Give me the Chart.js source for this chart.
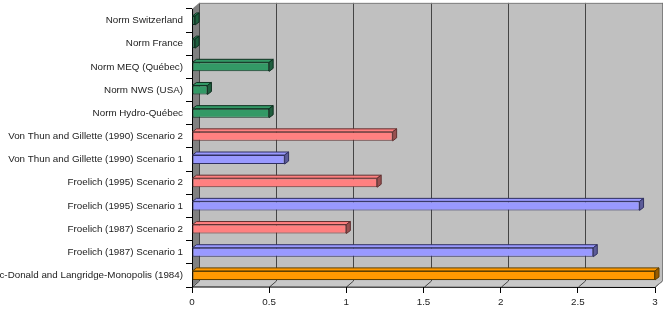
<!DOCTYPE html>
<html>
<head>
<meta charset="utf-8">
<script src="https://cdn.jsdelivr.net/npm/chart.js@4"></script>
<style>
  html, body { margin: 0; padding: 0; background: #fff; }
  #wrap { width: 665px; height: 312px; }
</style>
</head>
<body>
<div id="wrap"><canvas id="c"></canvas></div>
<script>
'use strict';

const categories = [
  'Norm Switzerland',
  'Norm France',
  'Norm MEQ (Québec)',
  'Norm NWS (USA)',
  'Norm Hydro-Québec',
  'Von Thun and Gillette (1990) Scenario 2',
  'Von Thun and Gillette (1990) Scenario 1',
  'Froelich (1995) Scenario 2',
  'Froelich (1995) Scenario 1',
  'Froelich (1987) Scenario 2',
  'Froelich (1987) Scenario 1',
  'Mac-Donald and Langridge-Monopolis (1984)'
];
const values = [0.02, 0.02, 0.5, 0.1, 0.5, 1.3, 0.6, 1.2, 2.9, 1.0, 2.6, 3.0];
const groups = ['norm', 'norm', 'norm', 'norm', 'norm', 's2', 's1', 's2', 's1', 's2', 's1', 'base'];
const xTicks = [0, 0.5, 1, 1.5, 2, 2.5, 3];
const xTickLabels = ['0', '0.5', '1', '1.5', '2', '2.5', '3'];

const FACE = { norm: '#339966', s1: '#9999FF', s2: '#FF8080', base: '#FF9900' };
const SIDE = { norm: '#1f5e3e', s1: '#5c5c99', s2: '#995050', base: '#995c00' };
const LINE = { norm: '#0f3020', s1: '#303060', s2: '#603030', base: '#604000' };

const WALL_DX = 7, WALL_DY = -6;
const BAR_DX = 4, BAR_DY = -3;
const FONT = { family: 'Liberation Sans, Arial', size: 9.8 };

// back wall, side wall, floor and gridlines
const wallPlugin = {
  id: 'walls',
  beforeDatasetsDraw(chart) {
    const { ctx, chartArea: a, scales } = chart;
    ctx.save();
    // back wall
    ctx.fillStyle = '#C0C0C0';
    ctx.fillRect(a.left + WALL_DX, a.top + WALL_DY, a.right - a.left, a.bottom - a.top);
    // side wall
    ctx.fillStyle = '#808080';
    ctx.beginPath();
    ctx.moveTo(a.left, a.top);
    ctx.lineTo(a.left + WALL_DX, a.top + WALL_DY);
    ctx.lineTo(a.left + WALL_DX, a.bottom + WALL_DY);
    ctx.lineTo(a.left, a.bottom);
    ctx.closePath();
    ctx.fill();
    // floor
    ctx.fillStyle = '#C8C8C8';
    ctx.beginPath();
    ctx.moveTo(a.left, a.bottom);
    ctx.lineTo(a.left + WALL_DX, a.bottom + WALL_DY);
    ctx.lineTo(a.right + WALL_DX, a.bottom + WALL_DY);
    ctx.lineTo(a.right, a.bottom);
    ctx.closePath();
    ctx.fill();
    // gridlines
    ctx.strokeStyle = '#454545';
    ctx.lineWidth = 1;
    xTicks.forEach(v => {
      const x = Math.round(scales.x.getPixelForValue(v)) + 0.5;
      ctx.beginPath();
      ctx.moveTo(x + WALL_DX, a.top + WALL_DY);
      ctx.lineTo(x + WALL_DX, a.bottom + WALL_DY);
      ctx.lineTo(x, a.bottom);
      ctx.stroke();
    });
    // right and top edge of back wall
    ctx.strokeStyle = '#808080';
    ctx.beginPath();
    ctx.moveTo(a.left + WALL_DX, a.top + WALL_DY + 0.5);
    ctx.lineTo(a.right + WALL_DX + 0.5, a.top + WALL_DY + 0.5);
    ctx.lineTo(a.right + WALL_DX + 0.5, a.bottom + WALL_DY);
    ctx.lineTo(a.right, a.bottom);
    ctx.stroke();
    // front axis line
    ctx.strokeStyle = '#000';
    ctx.beginPath();
    ctx.moveTo(a.left + 0.5, a.top);
    ctx.lineTo(a.left + 0.5, a.bottom);
    ctx.lineTo(a.right, a.bottom + 0.5);
    ctx.stroke();
    ctx.restore();
  }
};

// top and side faces for each bar
const barDepthPlugin = {
  id: 'barDepth',
  afterDatasetsDraw(chart) {
    const { ctx } = chart;
    const meta = chart.getDatasetMeta(0);
    ctx.save();
    ctx.lineWidth = 1;
    meta.data.forEach((bar, i) => {
      const g = groups[i];
      const { x, y, base, height } = bar.getProps(['x', 'y', 'base', 'height'], true);
      const top = y - height / 2, bottom = y + height / 2;
      ctx.strokeStyle = LINE[g];
      // top face
      ctx.fillStyle = FACE[g];
      ctx.beginPath();
      ctx.moveTo(base, top);
      ctx.lineTo(base + BAR_DX, top + BAR_DY);
      ctx.lineTo(x + BAR_DX, top + BAR_DY);
      ctx.lineTo(x, top);
      ctx.closePath();
      ctx.fill();
      ctx.stroke();
      // side face
      ctx.fillStyle = SIDE[g];
      ctx.beginPath();
      ctx.moveTo(x, top);
      ctx.lineTo(x + BAR_DX, top + BAR_DY);
      ctx.lineTo(x + BAR_DX, bottom + BAR_DY);
      ctx.lineTo(x, bottom);
      ctx.closePath();
      ctx.fill();
      ctx.stroke();
    });
    ctx.restore();
  }
};

new Chart(document.getElementById('c'), {
  type: 'bar',
  data: {
    labels: categories,
    datasets: [{
      data: values,
      backgroundColor: groups.map(g => FACE[g]),
      borderColor: groups.map(g => LINE[g]),
      borderWidth: 1,
      borderSkipped: false,
      categoryPercentage: 1,
      barPercentage: 0.39
    }]
  },
  options: {
    indexAxis: 'y',
    responsive: true,
    maintainAspectRatio: false,
    animation: false,
    layout: { padding: { top: 5, right: 10, left: 0, bottom: 0 } },
    plugins: { legend: { display: false }, tooltip: { enabled: false } },
    scales: {
      x: {
        min: 0, max: 3,
        afterBuildTicks: s => { s.ticks = xTicks.map(v => ({ value: v })); },
        afterFit: s => { s.height = 25; },
        border: { display: false },
        grid: { drawOnChartArea: false, tickLength: 6, color: '#000' },
        ticks: { color: '#222', padding: 3, font: FONT, callback: (v, i) => xTickLabels[i] }
      },
      y: {
        afterFit: s => { s.width = 192; },
        border: { display: false },
        grid: { drawOnChartArea: false, offset: true, tickLength: 6, color: '#000' },
        ticks: { color: '#222', padding: 3, autoSkip: false, font: FONT }
      }
    }
  },
  plugins: [wallPlugin, barDepthPlugin]
});
</script>
</body>
</html>
